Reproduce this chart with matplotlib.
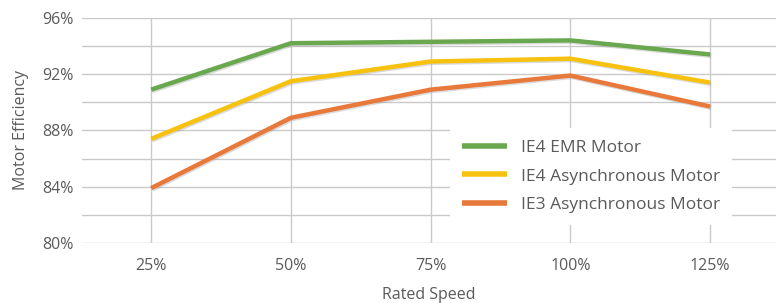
import matplotlib
matplotlib.use("Agg")
import matplotlib.pyplot as plt
import matplotlib.patheffects as pe
from matplotlib.ticker import FuncFormatter, MultipleLocator

categories = ["25%", "50%", "75%", "100%", "125%"]
ie4_emr = [90.9, 94.2, 94.3, 94.4, 93.4]
ie4_async = [87.4, 91.5, 92.9, 93.1, 91.4]
ie3_async = [83.9, 88.9, 90.9, 91.9, 89.7]

series = [
    ("IE4 EMR Motor", ie4_emr, "#6aa84f"),
    ("IE4 Asynchronous Motor", ie4_async, "#f7c20f"),
    ("IE3 Asynchronous Motor", ie3_async, "#e8793a"),
]

plt.rcParams['font.family'] = ['Open Sans', 'DejaVu Sans']
text_color = "#5a5a5a"

fig = plt.figure(figsize=(7.76, 3.03), dpi=100)
ax = fig.add_axes([0.106, 0.198, 0.894, 0.743])

x = list(range(len(categories)))
for name, vals, col in series:
    ax.plot(x, vals, color=col, lw=3.2, label=name, solid_capstyle='butt',
            path_effects=[pe.SimpleLineShadow(offset=(0.8, -1.0), shadow_color='#999999', alpha=0.35),
                          pe.Normal()], zorder=3)

ax.set_ylim(80, 96)
ax.set_xlim(-0.493, 4.471)
ax.set_xticks(x)
ax.set_xticklabels(categories)
ax.yaxis.set_major_locator(MultipleLocator(4))
ax.yaxis.set_minor_locator(MultipleLocator(2))
ax.yaxis.set_major_formatter(FuncFormatter(lambda v, p: f"{v:.0f}%"))

ax.grid(True, which='both', axis='y', color='#cacaca', lw=1.0, zorder=0)
ax.grid(True, which='major', axis='x', color='#cacaca', lw=1.0, zorder=0)
for s in ax.spines.values():
    s.set_visible(False)
ax.tick_params(axis='both', which='both', length=0, colors=text_color, labelsize=11.5)
ax.tick_params(axis='x', pad=11)
ax.tick_params(axis='y', pad=6)

ax.set_xlabel("Rated Speed", color=text_color, fontsize=11.5, labelpad=9)
ax.set_ylabel("Motor Efficiency", color=text_color, fontsize=11.5, labelpad=10)

leg = ax.legend(loc='lower left', bbox_to_anchor=(0.53, 0.08), frameon=True,
                fontsize=12.5, handlelength=2.6, labelspacing=0.7, borderpad=0.7,
                handletextpad=0.8, borderaxespad=0)
leg.get_frame().set_facecolor('white')
leg.get_frame().set_edgecolor('none')
leg.get_frame().set_alpha(1.0)
for t in leg.get_texts():
    t.set_color(text_color)
for l in leg.get_lines():
    l.set_linewidth(4)
    l.set_path_effects([])

fig.savefig("out.png", dpi=100)
